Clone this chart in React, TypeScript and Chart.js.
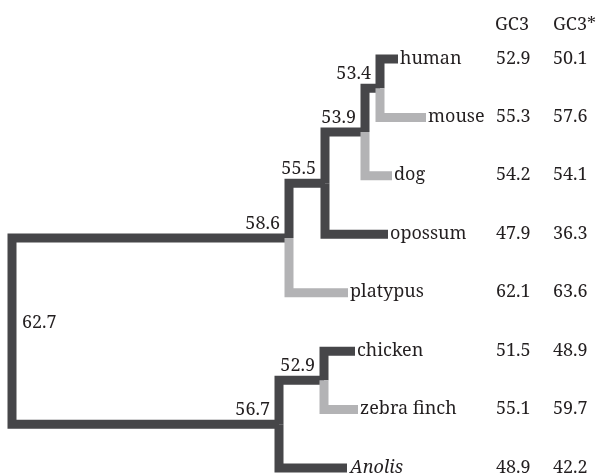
import React, { useEffect, useRef } from "react";
import { Chart, registerables } from "chart.js";

Chart.register(...registerables);

// Leaves (top to bottom) with their GC3 and GC3* values
const leaves = ["human", "mouse", "dog", "opossum", "platypus", "chicken", "zebra finch", "Anolis"];
const leafGC3 = [52.9, 55.3, 54.2, 47.9, 62.1, 51.5, 55.1, 48.9];
const leafGC3star = [50.1, 57.6, 54.1, 36.3, 63.6, 48.9, 59.7, 42.2];

// Internal nodes with their reconstructed GC3
const internalNodes = ["n0", "n1", "n2", "n3", "n4", "n5", "n6"];
const internalGC3 = [62.7, 58.6, 55.5, 53.9, 53.4, 56.7, 52.9];

// Branches: child, parent, branch length
const branchChild = ["n1", "n2", "n3", "n4", "human", "mouse", "dog", "opossum", "platypus", "n5", "n6", "chicken", "zebra finch", "Anolis"];
const branchParent = ["n0", "n1", "n2", "n3", "n4", "n4", "n3", "n2", "n1", "n0", "n5", "n6", "n6", "n5"];
const branchLength = [2.77, 0.36, 0.4, 0.15, 0.18, 0.46, 0.27, 0.63, 0.59, 2.67, 0.45, 0.31, 0.34, 0.68];

// Leaves whose terminal branch is highlighted in light grey
const greyLeaves = ["mouse", "dog", "platypus", "zebra finch"];

const columnHeaders = ["GC3", "GC3*"];
const rootName = "n0";

const DARK = "#464649";
const GREY = "#b3b3b5";
const TEXT = "#231f20";
const NUM_FONT = '18px "Noto Serif", serif';
const NAME_FONT = '18px "Noto Serif", serif';
const ITALIC_FONT = 'italic 18px "Noto Serif", serif';

function layout() {
  const xPos: Record<string, number> = {};
  const yPos: Record<string, number> = {};
  const children: Record<string, string[]> = {};
  branchChild.forEach((c, i) => {
    const p = branchParent[i];
    (children[p] = children[p] || []).push(c);
  });
  leaves.forEach((l, i) => (yPos[l] = i));
  const setX = (n: string, x: number) => {
    xPos[n] = x;
    (children[n] || []).forEach((c) => {
      const bi = branchChild.indexOf(c);
      setX(c, x + branchLength[bi]);
    });
  };
  setX(rootName, 0);
  const setY = (n: string): number => {
    if (yPos[n] !== undefined) return yPos[n];
    const ys = (children[n] || []).map(setY);
    yPos[n] = ys.reduce((a, b) => a + b, 0) / ys.length;
    return yPos[n];
  };
  setY(rootName);
  return { xPos, yPos };
}

export default function App() {
  const ref = useRef<HTMLCanvasElement | null>(null);

  useEffect(() => {
    if (!ref.current) return;
    const { xPos, yPos } = layout();

    const datasets = branchChild.map((c, i) => {
      const p = branchParent[i];
      const grey = greyLeaves.includes(c);
      return {
        label: c,
        data: [
          { x: xPos[p], y: yPos[p] },
          { x: xPos[p], y: yPos[c] },
          { x: xPos[c], y: yPos[c] },
        ],
        showLine: true,
        borderColor: grey ? GREY : DARK,
        backgroundColor: grey ? GREY : DARK,
        borderWidth: 9,
        borderCapStyle: "butt" as const,
        borderJoinStyle: "miter" as const,
        pointRadius: 0,
        pointHoverRadius: 0,
        tension: 0,
        order: grey ? 0 : 1,
        clip: false as const,
      };
    });

    const labelPlugin = {
      id: "treeLabels",
      afterDatasetsDraw(chart: any) {
        const ctx = chart.ctx as CanvasRenderingContext2D;
        const xs = chart.scales.x;
        const ys = chart.scales.y;
        const px = (v: number) => xs.getPixelForValue(v);
        const py = (v: number) => ys.getPixelForValue(v);
        ctx.save();
        ctx.fillStyle = TEXT;
        ctx.textBaseline = "alphabetic";
        // internal node values
        ctx.font = NUM_FONT;
        internalNodes.forEach((n, i) => {
          const label = internalGC3[i].toFixed(1);
          if (n === rootName) {
            ctx.textAlign = "left";
            ctx.fillText(label, px(xPos[n]) + 10, py(yPos[n]) - 3);
          } else {
            ctx.textAlign = "right";
            ctx.fillText(label, px(xPos[n]) - 9, py(yPos[n]) - 9);
          }
        });
        // leaf names
        ctx.textAlign = "left";
        leaves.forEach((l) => {
          const italic = l === "Anolis";
          ctx.font = italic ? ITALIC_FONT : NAME_FONT;
          ctx.fillText(l, px(xPos[l]) + (italic ? 3 : 2), py(yPos[l]) + 4.5);
        });
        // table
        ctx.font = NUM_FONT;
        const col1 = 496;
        const col2 = 553;
        ctx.fillText(columnHeaders[0], col1 - 1, 30);
        ctx.fillText(columnHeaders[1], col2, 30);
        leaves.forEach((l, i) => {
          const y = py(yPos[l]) + 4.5;
          ctx.fillText(leafGC3[i].toFixed(1), col1, y);
          ctx.fillText(leafGC3star[i].toFixed(1), col2, y);
        });
        ctx.restore();
      },
    };

    const rowSpacing = 58.43;
    const yMin = -59 / rowSpacing;
    const yMax = yMin + 474 / rowSpacing;

    const chart = new Chart(ref.current, {
      type: "scatter",
      data: { datasets: datasets as any },
      options: {
        animation: false,
        responsive: false,
        devicePixelRatio: 1,
        layout: { padding: 0 },
        plugins: { legend: { display: false }, tooltip: { enabled: false } },
        events: [],
        scales: {
          x: { type: "linear", min: -0.12, max: 5.88, display: false },
          y: { type: "linear", min: yMin, max: yMax, reverse: true, display: false },
        },
      },
      plugins: [labelPlugin],
    });
    return () => chart.destroy();
  }, []);

  return (
    <div style={{ position: "absolute", left: 0, top: 0, width: 600, height: 474, background: "#fff" }}>
      <canvas ref={ref} width={600} height={474} style={{ display: "block" }} />
    </div>
  );
}
